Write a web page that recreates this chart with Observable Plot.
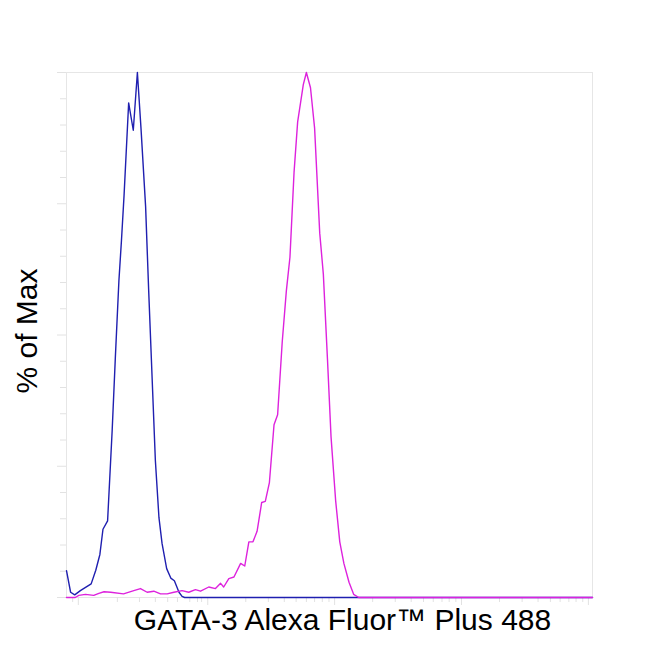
<!DOCTYPE html>
<html>
<head>
<meta charset="utf-8">
<script src="https://cdn.jsdelivr.net/npm/d3@7"></script>
<script src="https://cdn.jsdelivr.net/npm/@observablehq/plot@0.6"></script>
<style>
  html, body { margin: 0; padding: 0; background: #fff; }
  #chart { width: 650px; height: 650px; }
</style>
</head>
<body>
<div id="chart"></div>
<script>
// Fluorescence channel (0–1024 display scale) and % of Max
const blueX = [0, 8, 16, 27, 48, 57, 65, 71, 80, 89, 95, 102, 107, 112, 121, 130, 138, 145, 154, 160, 167, 173, 180, 186, 195, 203, 210, 219, 225, 230, 1024];
const blueY = [5.1, 1.0, 0.5, 1.3, 2.6, 5.2, 8.2, 13, 14.6, 32, 45.5, 60.3, 68, 76.5, 94.2, 89, 100, 89.4, 74.5, 58.4, 41, 26.1, 15.2, 10.3, 5.5, 3.7, 3.2, 1.0, 0.2, 0, 0];

const magX = [0, 17, 24, 37, 53, 63, 73, 86, 111, 131, 144, 157, 170, 183, 196, 209, 225, 238, 251, 261, 277, 290, 300, 306, 316, 326, 339, 347, 355, 363, 371, 380, 387, 395, 404, 411, 420, 428, 435, 443, 450, 461, 467, 475, 483, 493, 500, 508, 515, 524, 532, 540, 550, 559, 569, 1024];
const magY = [0, 0, 0.4, 0.6, 0.4, 0.8, 1.1, 1.0, 0.7, 1.3, 1.7, 1.0, 1.2, 0.7, 0.7, 1.0, 1.3, 1.0, 1.5, 1.2, 2.0, 1.7, 2.7, 2.0, 3.6, 3.9, 6.5, 6.0, 10.6, 10.6, 12.6, 18.1, 18.3, 21.9, 32.9, 34.8, 48.7, 58.4, 64.8, 81, 90.6, 97.7, 100, 97.1, 89.4, 69.4, 61.6, 45.5, 30.6, 18.4, 10.6, 6.5, 2.9, 0.6, 0, 0];

// Axis tick positions (channel units)
const xMajorTicks = [23, 275, 522, 769, 1016];
const xMinorTicks = [12, 99, 142, 173, 197, 216, 240, 255, 263, 349, 393, 424, 447, 467, 483, 498, 511, 596, 640, 671, 695, 714, 731, 745, 758, 843, 887, 918, 942, 961, 978, 992, 1005];
const yMajorTicks = [0, 25, 50, 75, 100];
const yMinorTicks = [5, 10, 15, 20, 30, 35, 40, 45, 55, 60, 65, 70, 80, 85, 90, 95];

const xLabel = "GATA-3 Alexa Fluor™ Plus 488";
const yLabel = "% of Max";

const blue = blueX.map((x, i) => ({x, y: blueY[i]}));
const magenta = magX.map((x, i) => ({x, y: magY[i]}));

const tickColor = "#e2e2e2";
const font = "Arial, 'Liberation Sans', sans-serif";

const chart = Plot.plot({
  width: 650,
  height: 650,
  marginLeft: 66,
  marginRight: 58,
  marginTop: 72,
  marginBottom: 53,
  style: {fontFamily: font, background: "#fff", color: "#000"},
  x: {domain: [0, 1024]},
  y: {domain: [0, 100]},
  marks: [
    Plot.frame({stroke: "#e6e6e6"}),
    Plot.axisX({ticks: xMajorTicks, tickSize: 8, tickFormat: () => "", stroke: tickColor, label: null}),
    Plot.axisX({ticks: xMinorTicks, tickSize: 5, tickFormat: () => "", stroke: tickColor, label: null}),
    Plot.axisY({ticks: yMajorTicks, tickSize: 9, tickFormat: () => "", stroke: tickColor, label: null}),
    Plot.axisY({ticks: yMinorTicks, tickSize: 6, tickFormat: () => "", stroke: tickColor, label: null}),
    Plot.line(blue, {x: "x", y: "y", stroke: "#1f1fb0", strokeWidth: 1.4}),
    Plot.line(magenta, {x: "x", y: "y", stroke: "#dd22dd", strokeWidth: 1.4}),
    Plot.text([yLabel], {frameAnchor: "left", dx: -39, dy: -4, rotate: -90, textAnchor: "middle", fontSize: 30, fill: "#000", fontFamily: font}),
    Plot.text([xLabel], {frameAnchor: "bottom", dy: 23, dx: 13, textAnchor: "middle", fontSize: 30, fill: "#000", fontFamily: font, lineAnchor: "middle"})
  ]
});
document.getElementById("chart").appendChild(chart);
</script>
</body>
</html>
